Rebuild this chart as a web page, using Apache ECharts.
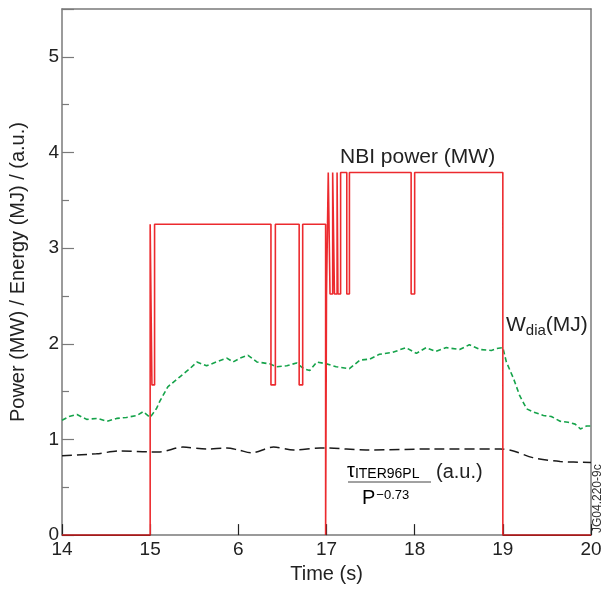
<!DOCTYPE html>
<html>
<head>
<meta charset="utf-8">
<script src="https://cdn.jsdelivr.net/npm/echarts@6/dist/echarts.min.js"></script>
<style>html,body{margin:0;padding:0;background:#fff;}#c{width:605px;height:589px;}</style>
</head>
<body>
<div id="c"></div>
<script>
// x tick labels (as printed in the original figure)
var xTickValues = [14, 15, 16, 17, 18, 19, 20];
var xTickLabels = ["14", "15", "6", "17", "18", "19", "20"];

// NBI power (MW): step changes [time, level]
var nbiT = [14.00, 15.00, 15.02, 15.05, 16.37, 16.42, 16.69, 16.73, 16.99, 17.00, 17.02, 17.04, 17.07, 17.09, 17.12, 17.13, 17.16, 17.23, 17.26, 17.96, 18.00, 19.00, 20.00];
var nbiP = [0, 3.25, 1.57, 3.25, 1.57, 3.25, 1.57, 3.25, 0, 2.52, 3.79, 2.52, 3.79, 2.52, 3.79, 2.52, 3.79, 2.52, 3.79, 2.52, 3.79, 0, 0];

// W_dia (MJ)
var wdiaT = [14.00, 14.08, 14.17, 14.28, 14.40, 14.51, 14.62, 14.73, 14.85, 14.92, 15.00, 15.07, 15.11, 15.20, 15.33, 15.45, 15.53, 15.64, 15.75, 15.87, 15.94, 16.02, 16.11, 16.21, 16.36, 16.43, 16.55, 16.66, 16.74, 16.81, 16.89, 17.00, 17.11, 17.26, 17.38, 17.49, 17.60, 17.75, 17.90, 18.02, 18.13, 18.24, 18.36, 18.51, 18.62, 18.74, 18.87, 18.93, 19.00, 19.04, 19.12, 19.19, 19.27, 19.34, 19.46, 19.55, 19.65, 19.74, 19.82, 19.88, 19.95, 20.00];
var wdiaV = [1.20, 1.24, 1.26, 1.21, 1.22, 1.19, 1.22, 1.23, 1.25, 1.29, 1.23, 1.32, 1.40, 1.55, 1.65, 1.74, 1.81, 1.77, 1.81, 1.85, 1.81, 1.85, 1.88, 1.81, 1.79, 1.76, 1.77, 1.80, 1.74, 1.72, 1.81, 1.79, 1.76, 1.74, 1.83, 1.84, 1.89, 1.91, 1.96, 1.90, 1.96, 1.92, 1.96, 1.94, 1.99, 1.94, 1.93, 1.95, 1.96, 1.81, 1.64, 1.46, 1.32, 1.29, 1.25, 1.24, 1.19, 1.18, 1.16, 1.11, 1.14, 1.14];

// tau_ITER96PL / P^-0.73 (a.u.)
var tauT = [14.00, 14.39, 14.66, 15.00, 15.11, 15.37, 15.64, 15.87, 16.00, 16.15, 16.40, 16.63, 16.93, 17.00, 17.45, 18.21, 18.97, 19.12, 19.34, 19.65, 20.00];
var tauV = [0.83, 0.85, 0.88, 0.87, 0.87, 0.92, 0.90, 0.91, 0.89, 0.86, 0.92, 0.89, 0.91, 0.91, 0.89, 0.90, 0.90, 0.88, 0.81, 0.77, 0.76];

function pairs(a, b) { return a.map(function (v, i) { return [v, b[i]]; }); }

var FONT = "Liberation Sans, Arial, Helvetica, sans-serif";
var chart = echarts.init(document.getElementById('c'), null, {renderer: 'canvas'});
var axisGrey = '#7a7a7a';
var RED = '#ec2a2e', DARKRED = '#a01c1c';
var H = 589;
var nbiColor = new echarts.graphic.LinearGradient(0, 0, 0, H, [
  {offset: 0, color: RED}, {offset: 534 / H, color: RED},
  {offset: 535 / H, color: DARKRED}, {offset: 1, color: DARKRED}
], true);
var option = {
  animation: false,
  backgroundColor: '#fff',
  grid: {left: 62, right: 14, top: 9, bottom: 52, containLabel: false},
  xAxis: [{
    type: 'value', min: 14, max: 20, interval: 1,
    axisLine: {show: true, onZero: false, lineStyle: {color: axisGrey, width: 1.5}},
    axisTick: {show: true, inside: true, length: 11, lineStyle: {color: '#222', width: 1.2}},
    splitLine: {show: false},
    axisLabel: {color: '#222', fontSize: 19, fontFamily: FONT, margin: 5,
      formatter: function (v) { var i = xTickValues.indexOf(v); return i >= 0 ? xTickLabels[i] : ''; }},
    name: 'Time (s)', nameLocation: 'middle', nameGap: 24,
    nameTextStyle: {color: '#222', fontSize: 20, fontFamily: FONT}
  }, {
    type: 'value', position: 'top', min: 14, max: 20,
    axisLine: {show: true, onZero: false, lineStyle: {color: axisGrey, width: 1.5}},
    axisTick: {show: false}, axisLabel: {show: false}, splitLine: {show: false}
  }],
  yAxis: [{
    type: 'value', min: 0, max: 5.5, interval: 1,
    axisLine: {show: true, onZero: false, lineStyle: {color: axisGrey, width: 1.5}},
    axisTick: {show: true, inside: true, length: 12, lineStyle: {color: axisGrey, width: 1.2}},
    minorTick: {show: true, splitNumber: 2, length: 7, lineStyle: {color: axisGrey, width: 1.2}},
    splitLine: {show: false},
    axisLabel: {color: '#222', fontSize: 19, fontFamily: FONT, margin: 3,
      formatter: function (v) { return Number.isInteger(v) ? String(v) : ''; }},
    name: 'Power (MW) / Energy (MJ) / (a.u.)', nameLocation: 'middle', nameGap: 34,
    nameTextStyle: {color: '#222', fontSize: 20, fontFamily: FONT}
  }, {
    type: 'value', position: 'right', min: 0, max: 5.5,
    axisLine: {show: true, onZero: false, lineStyle: {color: axisGrey, width: 1.5}},
    axisTick: {show: false}, axisLabel: {show: false}, splitLine: {show: false}
  }],
  series: [{
    name: 'tau', type: 'line', data: pairs(tauT, tauV), showSymbol: false, smooth: 0.3,
    lineStyle: {color: '#1a1a1a', width: 1.5, type: [10, 5]}, z: 2
  }, {
    name: 'Wdia', type: 'line', data: pairs(wdiaT, wdiaV), showSymbol: false,
    lineStyle: {color: '#15a34a', width: 1.6, type: [5, 3]}, z: 3
  }, {
    name: 'NBI', type: 'line', step: 'end', data: pairs(nbiT, nbiP), showSymbol: false,
    lineStyle: {color: nbiColor, width: 1.6}, z: 4
  }],
  graphic: [
    {type: 'text', left: 340, top: 147, style: {text: 'NBI power (MW)', font: '21px ' + FONT, fill: '#222'}},
    {type: 'text', left: 506, top: 315, style: {
      text: '{a|W}{b|dia}{a|(MJ)}',
      rich: {a: {fontSize: 21, fontFamily: FONT, fill: '#222', color: '#222'},
             b: {fontSize: 15, fontFamily: FONT, fill: '#222', color: '#222', padding: [10, 0, 0, 0]}}
    }},
    {type: 'text', left: 347, top: 461, style: {
      text: '{t|τ}{s|ITER96PL}',
      rich: {t: {fontSize: 20, fontFamily: FONT, color: '#222'},
             s: {fontSize: 14, fontFamily: FONT, color: '#222', padding: [6, 0, 0, 0]}}
    }},
    {type: 'line', shape: {x1: 348, y1: 482, x2: 431, y2: 482}, style: {stroke: '#444', lineWidth: 1}},
    {type: 'text', left: 436, top: 462, style: {text: '(a.u.)', font: '20px ' + FONT, fill: '#222'}},
    {type: 'text', left: 362, top: 488, style: {
      text: '{p|P}{e|−0.73}',
      rich: {p: {fontSize: 20, fontFamily: FONT, color: '#222'},
             e: {fontSize: 13, fontFamily: FONT, color: '#222', padding: [0, 0, 6, 1]}}
    }},
    {type: 'text', x: 592, y: 533, rotation: Math.PI / 2, style: {text: 'JG04.220-9c', font: '12px ' + FONT, fill: '#333'}}
  ]
};
chart.setOption(option);
</script>
</body>
</html>
